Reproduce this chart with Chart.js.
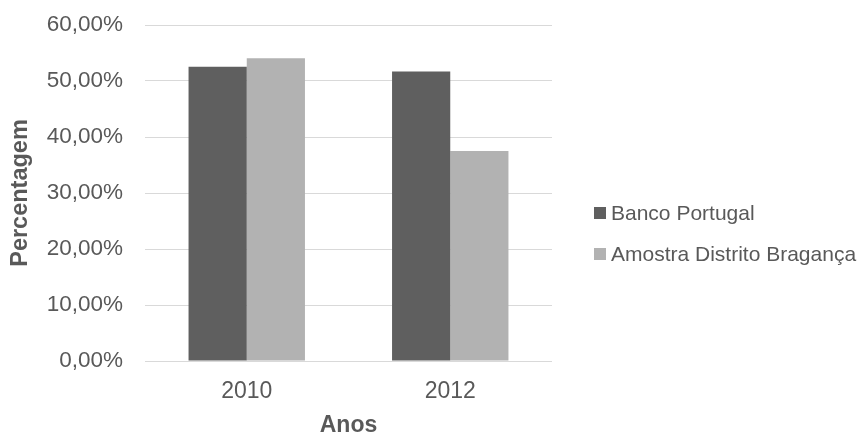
<!DOCTYPE html>
<html>
<head>
<meta charset="utf-8">
<script src="https://cdn.jsdelivr.net/npm/chart.js@4"></script>
<style>
html,body{margin:0;padding:0;background:#fff;}
#wrap{width:861px;height:434px;position:relative;}
</style>
</head>
<body>
<div id="wrap"><canvas id="c" width="861" height="434"></canvas></div>
<script>
const categories = ['2010', '2012'];
const seriesNames = ['Banco Portugal', 'Amostra Distrito Bragança'];
const bancoPortugal = [52.55, 51.7];
const amostraBraganca = [54.05, 37.5];
const yTicks = [0, 10, 20, 30, 40, 50, 60];
const xTitle = 'Anos';
const yTitle = 'Percentagem';

const colors = ['#5f5f5f', '#b2b2b2'];
const textColor = '#595959';
const fontFamily = '"Liberation Sans", Arial, sans-serif';

const legendPlugin = {
  id: 'sideLegend',
  afterDraw(chart) {
    const ctx = chart.ctx;
    const ys = [213, 254];
    ctx.save();
    ctx.font = '21px ' + fontFamily;
    ctx.textBaseline = 'middle';
    ctx.textAlign = 'left';
    chart.data.datasets.forEach((ds, i) => {
      ctx.fillStyle = ds.backgroundColor;
      ctx.fillRect(594, ys[i] - 6, 12, 12);
      ctx.fillStyle = textColor;
      ctx.fillText(ds.label, 611, ys[i] + 1);
    });
    ctx.restore();
  }
};

new Chart(document.getElementById('c'), {
  type: 'bar',
  data: {
    labels: categories,
    datasets: [
      { label: seriesNames[0], data: bancoPortugal, backgroundColor: colors[0] },
      { label: seriesNames[1], data: amostraBraganca, backgroundColor: colors[1] }
    ]
  },
  options: {
    responsive: false,
    animation: false,
    devicePixelRatio: 1,
    layout: { padding: { left: 0, right: 309, top: 25, bottom: 0 } },
    datasets: { bar: { categoryPercentage: 0.572, barPercentage: 1.0, borderWidth: 0 } },
    plugins: { legend: { display: false }, tooltip: { enabled: false } },
    scales: {
      x: {
        grid: { display: false, drawTicks: false },
        border: { display: false },
        ticks: { color: textColor, font: { family: fontFamily, size: 23 }, padding: 17 },
        title: { display: true, text: xTitle, color: textColor,
                 font: { family: fontFamily, size: 23, weight: 'bold', lineHeight: 0.7 },
                 padding: { top: 0, bottom: 0 } },
        afterFit(s) { s.height = 73; s.paddingLeft = 0; s.paddingRight = 0; }
      },
      y: {
        min: 0, max: 60,
        afterBuildTicks(s) { s.ticks = yTicks.map(v => ({ value: v })); },
        grid: { color: '#d9d9d9', lineWidth: 1, drawTicks: false },
        border: { display: false },
        ticks: { color: textColor, font: { family: fontFamily, size: 22.5 }, padding: 22,
                 callback: v => v.toFixed(2).replace('.', ',') + '%' },
        title: { display: true, text: yTitle, color: textColor,
                 font: { family: fontFamily, size: 23.5, weight: 'bold', lineHeight: 1 },
                 padding: { top: 9, bottom: 0 } },
        afterFit(s) { s.width = 145; s.paddingTop = 0; s.paddingBottom = 0; }
      }
    }
  },
  plugins: [legendPlugin]
});
</script>
</body>
</html>
